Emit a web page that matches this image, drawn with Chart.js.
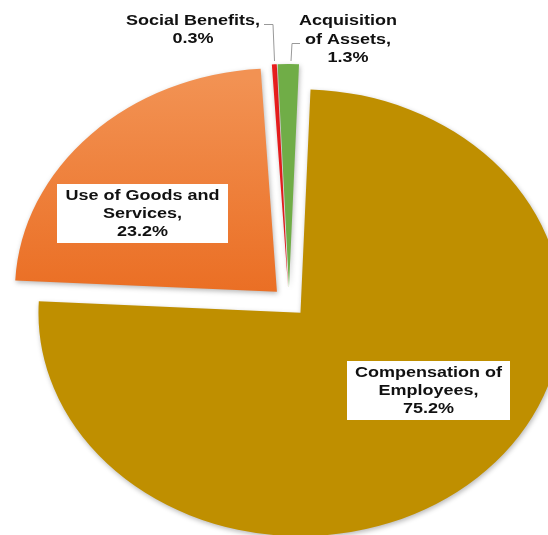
<!DOCTYPE html>
<html>
<head>
<meta charset="utf-8">
<script src="https://cdn.jsdelivr.net/npm/chart.js@4/dist/chart.umd.min.js"></script>
<style>
  body { margin: 0; background: #fff; }
  #wrap { width: 548px; height: 535px; position: relative; }
</style>
</head>
<body>
<div id="wrap"><canvas id="pie"></canvas></div>
<script>
// expenditure shares, clockwise from the top
let CATEGORIES = ["Compensation of Employees", "Use of Goods and Services", "Social Benefits", "Acquisition of Assets"];
let SHARES = [75.2, 23.2, 0.3, 1.3];
let LABEL_LINES = [
  ["Compensation of", "Employees,"],
  ["Use of Goods and", "Services,"],
  ["Social Benefits,"],
  ["Acquisition", "of Assets,"],
];
let COLORS = ["#BF8F00", "#EE7A30", "#E91E1E", "#70AD47"];

let PIE_RADIUS = 262;
let EXPLODE = 17;       // every slice pulled out from the centre by this much
let Y_SQUASH = 0.853;
let TEXT_STRETCH = 1.2;
let FONT = 'bold 15px "Liberation Sans", Arial, sans-serif';

function labelText(i) {
  return LABEL_LINES[i].concat([SHARES[i].toFixed(1) + "%"]);
}

function pieCentre(chart) {
  const a = chart.chartArea;
  return { x: (a.left + a.right) / 2, y: (a.top + a.bottom) / 2 };
}

// orange slice is shaded light at the rim, darker toward the middle
function sliceColor(c) {
  if (c.dataIndex !== 1) return COLORS[c.dataIndex];
  if (!c.chart.chartArea) return COLORS[1];
  const p = pieCentre(c.chart);
  const g = c.chart.ctx.createLinearGradient(0, p.y - PIE_RADIUS, 0, p.y);
  g.addColorStop(0, "#F29253");
  g.addColorStop(1, "#EA6D22");
  return g;
}

// exploded pie: shift each arc outwards along its own mid angle
const explodePlugin = {
  id: "explode",
  afterDatasetsUpdate(chart) {
    chart.getDatasetMeta(0).data.forEach((arc) => {
      const mid = (arc.startAngle + arc.endAngle) / 2;
      arc.x += Math.cos(mid) * EXPLODE;
      arc.y += Math.sin(mid) * EXPLODE;
    });
  },
};

// flatten the pie vertically a bit and give it a soft shadow
const squashPlugin = {
  id: "squash",
  beforeDatasetsDraw(chart) {
    const p = pieCentre(chart);
    const ctx = chart.ctx;
    ctx.save();
    ctx.translate(p.x, p.y);
    ctx.scale(1, Y_SQUASH);
    ctx.translate(-p.x, -p.y);
    ctx.shadowColor = "rgba(0,0,0,0.28)";
    ctx.shadowBlur = 5;
    ctx.shadowOffsetX = 1;
    ctx.shadowOffsetY = 2;
  },
  afterDatasetsDraw(chart) {
    chart.ctx.restore();
  },
};

function drawLines(ctx, lines, cx, baseline, step) {
  lines.forEach((line, k) => {
    ctx.save();
    ctx.translate(cx, baseline + k * step);
    ctx.scale(TEXT_STRETCH, 1);
    ctx.fillText(line, 0, 0);
    ctx.restore();
  });
}

function leader(ctx, pts) {
  ctx.beginPath();
  ctx.moveTo(pts[0][0], pts[0][1]);
  for (let i = 1; i < pts.length; i++) ctx.lineTo(pts[i][0], pts[i][1]);
  ctx.stroke();
}

const labelPlugin = {
  id: "sliceLabels",
  afterDraw(chart) {
    const ctx = chart.ctx;
    ctx.save();
    ctx.font = FONT;
    ctx.textAlign = "center";
    ctx.textBaseline = "alphabetic";

    // boxed labels inside the two big slices
    ctx.fillStyle = "#fff";
    ctx.fillRect(57, 184, 171, 59);
    ctx.fillRect(347, 361, 163, 59);
    ctx.fillStyle = "#111";
    drawLines(ctx, labelText(1), 142.5, 200, 18);
    drawLines(ctx, labelText(0), 428.5, 377, 18);

    // small slices labelled above the pie
    drawLines(ctx, labelText(2), 193, 25, 18);
    drawLines(ctx, labelText(3), 348, 25, 18.5);

    ctx.strokeStyle = "#999";
    ctx.lineWidth = 1;
    leader(ctx, [[264, 24.5], [273, 24.5], [274.5, 61]]);
    leader(ctx, [[300, 43.5], [292, 43.5], [291, 61]]);
    ctx.restore();
  },
};

new Chart(document.getElementById("pie"), {
  type: "pie",
  data: {
    labels: CATEGORIES,
    datasets: [
      {
        data: SHARES,
        backgroundColor: sliceColor,
        borderWidth: 0,
        radius: PIE_RADIUS,
        clip: false,
      },
    ],
  },
  options: {
    responsive: true,
    maintainAspectRatio: false,
    animation: false,
    events: [],
    rotation: 2.2,
    layout: { padding: { left: 30, top: 69 } },
    plugins: {
      legend: { display: false },
      tooltip: { enabled: false },
    },
  },
  plugins: [explodePlugin, squashPlugin, labelPlugin],
});
</script>
</body>
</html>
